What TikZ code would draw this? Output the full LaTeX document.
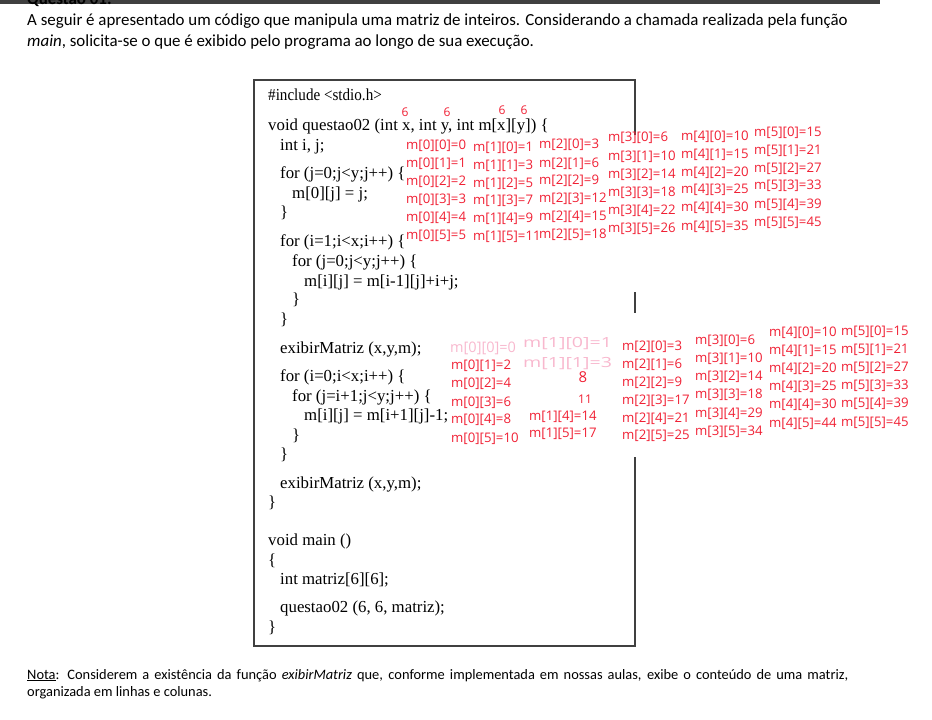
\documentclass[tikz,border=0pt]{standalone}
\usepackage{fontspec}
\setmainfont{Carlito}
\newfontfamily\codefont{Liberation Serif}
\newfontfamily\narrowcode[FakeStretch=0.9]{Liberation Serif}
\newfontfamily\handfont{Open Sans}
\newfontfamily\widefont[FakeStretch=1.4]{Open Sans}
\definecolor{barcolor}{RGB}{64,64,64}
\definecolor{handred}{RGB}{240,32,52}
\definecolor{handpink}{RGB}{248,184,206}
\begin{document}
\begin{tikzpicture}[
	x=1pt, y=-1pt,
	bodytext/.style={anchor=base west, inner sep=0pt, font=\fontsize{16.9}{20}\selectfont},
	notetext/.style={anchor=base west, inner sep=0pt, text width=821pt, align=justify, font=\fontsize{14.4}{17}\selectfont},
	codeline/.style={anchor=base west, inner sep=0pt, yshift=-5.5pt, font=\codefont\fontsize{16.8}{19}\selectfont},
	cell/.style={anchor=base west, inner sep=0pt, yshift=-5pt, color=handred, font=\handfont\fontsize{13.2}{16}\selectfont},
	scrawl/.style={anchor=center, inner sep=0pt, color=handred, font=\handfont\fontsize{12}{14}\selectfont},
	faint/.style={anchor=base west, inner sep=0pt, yshift=-5pt, color=handpink, font=\handfont\fontsize{14.5}{16}\selectfont},
	faintwide/.style={faint, font=\widefont\fontsize{14}{16}\selectfont},
	box/.style={draw=barcolor, line width=1.1pt}
	]
	\useasboundingbox (0,0) rectangle (932,720);

	% top of the page
	\fill[barcolor] (0,0) rectangle (880,4);
	\begin{scope}
		\clip (0,0) rectangle (932,6);
		\node[bodytext] (title) at (27,5) {\textbf{Questão 01:}};
	\end{scope}
	\node[bodytext] (introa) at (27,25) {A seguir é apresentado um código que manipula uma matriz de inteiros. Considerando a chamada realizada pela função};
	\node[bodytext] (introb) at (27,46) {\textit{main}, solicita-se o que é exibido pelo programa ao longo de sua execução.};

	% code frame, its right side is broken by the pasted numbers
	\draw[box] (635,135) -- (635,80) -- (254,80) -- (254,646) -- (635,646) -- (635,457);
	\draw[box] (635,292) -- (635,313);

	% code
	\node[codeline, font=\narrowcode\fontsize{16.8}{19}\selectfont] (include) at (268,95) {\#include <stdio.h>};
	\node[codeline] (header) at (268,125) {void questao02 (int x, int y, int m[x][y]) \{};
	\node[codeline] (decl) at (280,145) {int i, j;};
	\node[codeline] (fora) at (280,173) {for (j=0;j<y;j++) \{};
	\node[codeline] (assigna) at (292,193) {m[0][j] = j;};
	\node[codeline] (enda) at (280,212) {\}};
	\node[codeline] (forb) at (280,241) {for (i=1;i<x;i++) \{};
	\node[codeline] (forc) at (292,261) {for (j=0;j<y;j++) \{};
	\node[codeline] (assignb) at (304,281) {m[i][j] = m[i-1][j]+i+j;};
	\node[codeline] (endc) at (292,299) {\}};
	\node[codeline] (endb) at (280,319) {\}};
	\node[codeline] (showa) at (280,348) {exibirMatriz (x,y,m);};
	\node[codeline] (ford) at (280,376) {for (i=0;i<x;i++) \{};
	\node[codeline] (fore) at (292,396) {for (j=i+1;j<y;j++) \{};
	\node[codeline] (assignc) at (304,415) {m[i][j] = m[i+1][j]-1;};
	\node[codeline] (ende) at (292,435) {\}};
	\node[codeline] (endd) at (280,454) {\}};
	\node[codeline] (showb) at (280,483) {exibirMatriz (x,y,m);};
	\node[codeline] (endq) at (268,502) {\}};
	\node[codeline] (mainfn) at (268,540) {void main ()};
	\node[codeline] (openm) at (268,560) {\{};
	\node[codeline] (declm) at (280,579) {int matriz[6][6];};
	\node[codeline] (callq) at (280,607) {questao02 (6, 6, matriz);};
	\node[codeline] (endm) at (268,627) {\}};

	% marks over the parameters
	\node[scrawl] (markx) at (405,112) {6};
	\node[scrawl] (marky) at (447,112) {6};
	\node[scrawl] (markmx) at (502,110) {6};
	\node[scrawl] (markmy) at (524,110) {6};

	% first table
	\node[cell] (a00) at (406,144) {m[0][0]=0};
	\node[cell] (a01) at (406,162) {m[0][1]=1};
	\node[cell] (a02) at (406,180) {m[0][2]=2};
	\node[cell] (a03) at (406,198) {m[0][3]=3};
	\node[cell] (a04) at (406,216) {m[0][4]=4};
	\node[cell] (a05) at (406,234) {m[0][5]=5};
	\node[cell] (a10) at (473,146) {m[1][0]=1};
	\node[cell] (a11) at (473,164) {m[1][1]=3};
	\node[cell] (a12) at (473,182) {m[1][2]=5};
	\node[cell] (a13) at (473,199) {m[1][3]=7};
	\node[cell] (a14) at (473,217) {m[1][4]=9};
	\node[cell] (a15) at (473,235) {m[1][5]=11};
	\node[cell] (a20) at (539,143) {m[2][0]=3};
	\node[cell] (a21) at (539,162) {m[2][1]=6};
	\node[cell] (a22) at (539,179) {m[2][2]=9};
	\node[cell] (a23) at (539,197) {m[2][3]=12};
	\node[cell] (a24) at (539,215) {m[2][4]=15};
	\node[cell] (a25) at (539,233) {m[2][5]=18};
	\node[cell] (a30) at (608,136) {m[3][0]=6};
	\node[cell] (a31) at (608,155) {m[3][1]=10};
	\node[cell] (a32) at (608,173) {m[3][2]=14};
	\node[cell] (a33) at (608,191) {m[3][3]=18};
	\node[cell] (a34) at (608,209) {m[3][4]=22};
	\node[cell] (a35) at (608,227) {m[3][5]=26};
	\node[cell] (a40) at (681,135) {m[4][0]=10};
	\node[cell] (a41) at (681,153) {m[4][1]=15};
	\node[cell] (a42) at (681,171) {m[4][2]=20};
	\node[cell] (a43) at (681,188) {m[4][3]=25};
	\node[cell] (a44) at (681,206) {m[4][4]=30};
	\node[cell] (a45) at (681,225) {m[4][5]=35};
	\node[cell] (a50) at (754,131) {m[5][0]=15};
	\node[cell] (a51) at (754,149) {m[5][1]=21};
	\node[cell] (a52) at (754,167) {m[5][2]=27};
	\node[cell] (a53) at (754,184) {m[5][3]=33};
	\node[cell] (a54) at (754,203) {m[5][4]=39};
	\node[cell] (a55) at (754,221) {m[5][5]=45};

	% second table
	\node[faint] (b00) at (450,347) {m[0][0]=0};
	\node[cell] (b01) at (451,364) {m[0][1]=2};
	\node[cell] (b02) at (451,382) {m[0][2]=4};
	\node[cell] (b03) at (451,401) {m[0][3]=6};
	\node[cell] (b04) at (451,418) {m[0][4]=8};
	\node[cell] (b05) at (451,437) {m[0][5]=10};
	\node[faintwide] (b10) at (523,342) {m[1][0]=1};
	\node[faintwide] (b11) at (523,362) {m[1][1]=3};
	\node[scrawl, font=\handfont\fontsize{15}{16}\selectfont] (b12) at (583,377) {8};
	\node[scrawl] (b13) at (585,399) {11};
	\node[cell] (b14) at (529,415) {m[1][4]=14};
	\node[cell] (b15) at (529,432) {m[1][5]=17};
	\node[cell] (b20) at (622,345) {m[2][0]=3};
	\node[cell] (b21) at (622,363) {m[2][1]=6};
	\node[cell] (b22) at (622,381) {m[2][2]=9};
	\node[cell] (b23) at (622,399) {m[2][3]=17};
	\node[cell] (b24) at (622,417) {m[2][4]=21};
	\node[cell] (b25) at (622,434) {m[2][5]=25};
	\node[cell] (b30) at (695,339) {m[3][0]=6};
	\node[cell] (b31) at (695,357) {m[3][1]=10};
	\node[cell] (b32) at (695,375) {m[3][2]=14};
	\node[cell] (b33) at (695,393) {m[3][3]=18};
	\node[cell] (b34) at (695,412) {m[3][4]=29};
	\node[cell] (b35) at (695,430) {m[3][5]=34};
	\node[cell] (b40) at (769,331) {m[4][0]=10};
	\node[cell] (b41) at (769,349) {m[4][1]=15};
	\node[cell] (b42) at (769,367) {m[4][2]=20};
	\node[cell] (b43) at (769,385) {m[4][3]=25};
	\node[cell] (b44) at (769,403) {m[4][4]=30};
	\node[cell] (b45) at (769,422) {m[4][5]=44};
	\node[cell] (b50) at (841,330) {m[5][0]=15};
	\node[cell] (b51) at (841,348) {m[5][1]=21};
	\node[cell] (b52) at (841,366) {m[5][2]=27};
	\node[cell] (b53) at (841,384) {m[5][3]=33};
	\node[cell] (b54) at (841,402) {m[5][4]=39};
	\node[cell] (b55) at (841,421) {m[5][5]=45};

	% note
	\node[notetext] (note) at (27,679) {\underline{Nota}: Considerem a existência da função \textit{exibirMatriz} que, conforme implementada em nossas aulas, exibe o conteúdo de uma matriz,\linebreak organizada em linhas e colunas.};
\end{tikzpicture}
\end{document}
